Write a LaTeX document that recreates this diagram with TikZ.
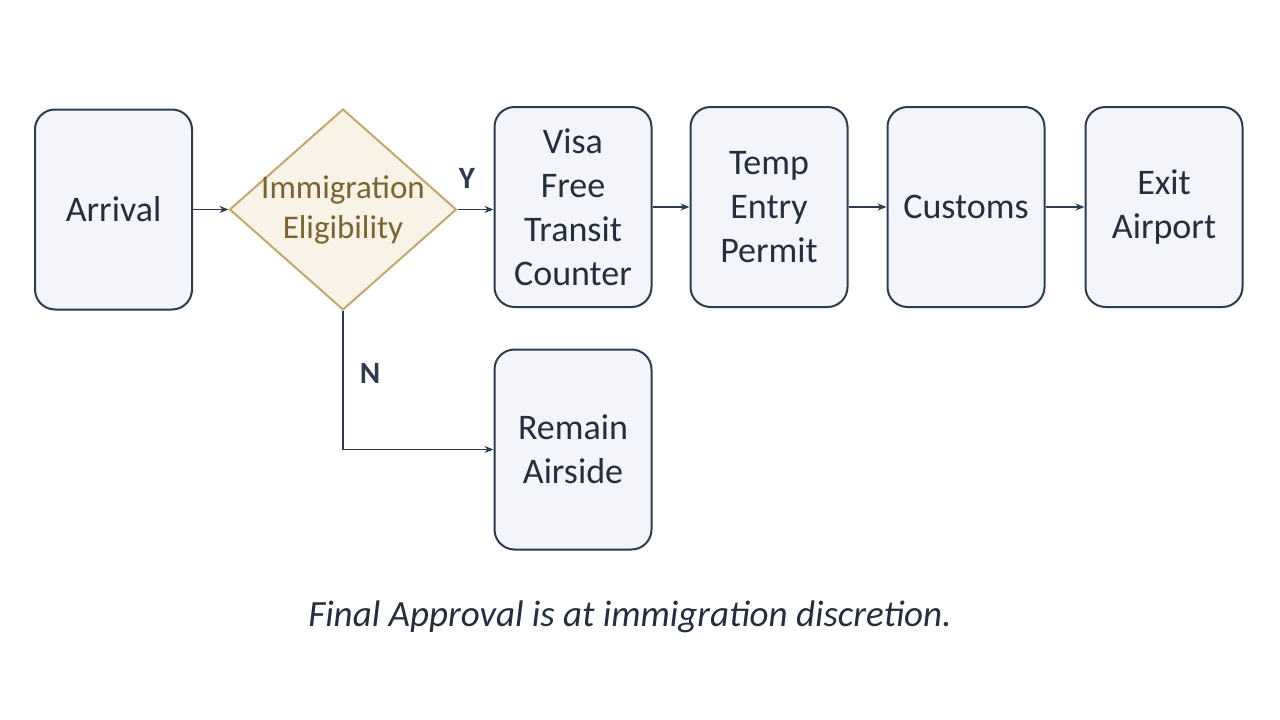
\documentclass[tikz,border=0pt]{standalone}
\usepackage{fontspec}
\setmainfont{Carlito}
\usetikzlibrary{shapes.geometric,arrows.meta}
\definecolor{boxfill}{HTML}{F3F5FA}
\definecolor{boxline}{HTML}{2E3A4F}
\definecolor{dfill}{HTML}{F8F3E6}
\definecolor{dline}{HTML}{C2A86E}
\definecolor{dtext}{HTML}{7A6530}
\begin{document}
\begin{tikzpicture}[x=1pt,y=-1pt,
  box/.style={draw=boxline,line width=2pt,fill=boxfill,rounded corners=20pt,minimum width=157pt,minimum height=200pt,align=center,font=\fontsize{36}{44}\selectfont,text=boxline!80!black},
  arr/.style={draw=boxline,line width=1.8pt,-{Stealth[length=9pt,width=7pt]}},
  lab/.style={font=\fontsize{31}{34}\selectfont\bfseries,text=boxline}]
\useasboundingbox (0,0) rectangle (1280,720);
\node[box] (arr) at (113.5,209.5) {Arrival};
\node[diamond,draw=dline,line width=2pt,fill=dfill,minimum width=227pt,minimum height=201pt,inner sep=0pt] (dia) at (343,209.5) {};
\node[align=center,font=\fontsize{33}{40}\selectfont,text=dtext] (diat) at (dia.center) {Immigration\\Eligibility};
\node[box] (visa) at (573,207) {Visa\\Free\\Transit\\Counter};
\node[box] (temp) at (769,207) {Temp\\Entry\\Permit};
\node[box] (cust) at (966,207) {Customs};
\node[box] (exit) at (1164,207) {Exit\\Airport};
\node[box] (rem) at (573,449.5) {Remain\\Airside};
\draw[arr] (arr.east) -- (dia.west);
\draw[arr] (dia.east) -- (visa.west |- dia.east);
\draw[arr] (visa.east) -- (temp.west);
\draw[arr] (temp.east) -- (cust.west |- temp.east);
\draw[arr] (cust.east) -- (exit.west |- cust.east);
\draw[arr] (dia.south) |- (rem.west);
\node[lab] (y) at (467,178) {Y};
\node[lab] (n) at (370,373) {N};
\node[font=\fontsize{37}{40}\selectfont\itshape,text=boxline!80!black] (cap) at (630,617) {Final Approval is at immigration discretion.};
\end{tikzpicture}
\end{document}
